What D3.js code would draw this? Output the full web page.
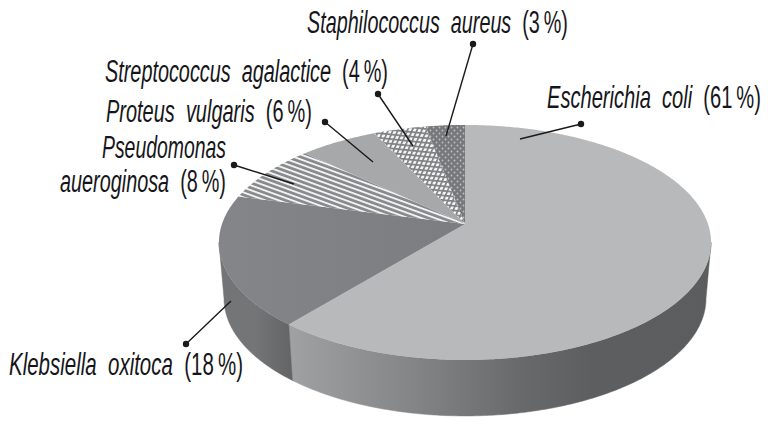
<!DOCTYPE html>
<html><head><meta charset="utf-8">
<script src="https://cdn.jsdelivr.net/npm/d3@7"></script>
<style>html,body{margin:0;background:#fff;overflow:hidden}svg{display:block}</style>
</head><body><svg id="c" width="768" height="428"></svg>
<script>
const categories=["Escherichia coli","Klebsiella oxitoca","Pseudomonas aueroginosa","Proteus vulgaris","Streptococcus agalactice","Staphilococcus aureus"];
const values=[61,18,8,6,4,3];
const labelNames=[["Escherichia  coli"],["Klebsiella  oxitoca"],["Pseudomonas","aueroginosa"],["Proteus  vulgaris"],["Streptococcus  agalactice"],["Staphilococcus  aureus"]];
const percentLabels=["(61\u2009%)","(18\u2009%)","(8\u2009%)","(6\u2009%)","(4\u2009%)","(3\u2009%)"];
const fills=["#b8b9bb","url(#klebTop)","url(#stripes)","#a7a8aa","url(#cross)","url(#dots)"];

// layout of labels: [x, baseline, width] per text line
const labelBoxes=[[[547,108,214]],[[9,375,234]],[[102,158,124],[60,192,166]],[[106,122,206]],[[105,82,283]],[[307,33,261]]];
// leader lines: dot x,y, end x,y
const leaders=[[581,124,520,139],[186,344,231,301],[234,165,294,184],[325,122,373,162],[378,94,413,146],[473,44,446,136]];

// pie geometry: projective view of a disc
const apex={x:465,y:224},R=243,K=114.6,P=0.157,depth=56,Rb=238;
const proj=(a,r=1,dy=0,rx=R)=>{const w=1+P*Math.cos(a)*r;return [apex.x+rx*Math.sin(a)*r/w,apex.y+dy-K*Math.cos(a)*r/w];};
const arcPts=(a0,a1,fn)=>{const n=Math.max(2,Math.ceil(Math.abs(a1-a0)/0.01));return d3.range(n+1).map(i=>fn(a0+(a1-a0)*i/n));};
const line=d3.line();

const svg=d3.select("#c");
const defs=svg.append("defs");
const grad=(id,x1,x2,stops)=>{const g=defs.append("linearGradient").attr("id",id).attr("gradientUnits","userSpaceOnUse").attr("x1",x1).attr("x2",x2).attr("y1",0).attr("y2",0);
  stops.forEach(s=>g.append("stop").attr("offset",s[0]).attr("stop-color",s[1]));};
grad("sideE",290,711,[[0,"#a0a1a3"],[.3,"#838486"],[.55,"#68696b"],[.72,"#5d5e60"],[1,"#5c5d5f"]]);
grad("sideK",218,292,[[0,"#737476"],[.5,"#747577"],[1,"#636466"]]);
grad("klebTop",218,465,[[0,"#848588"],[1,"#7c7d80"]]);

const stripes=defs.append("pattern").attr("id","stripes").attr("patternUnits","userSpaceOnUse").attr("width",20).attr("height",4.6).attr("patternTransform","rotate(20)");
stripes.append("rect").attr("width",20).attr("height",4.6).attr("fill","#88898c");
stripes.append("rect").attr("y",0).attr("width",20).attr("height",1.9).attr("fill","#f2f2f2");

const cross=defs.append("pattern").attr("id","cross").attr("patternUnits","userSpaceOnUse").attr("width",4.6).attr("height",4.6).attr("patternTransform","rotate(6) skewX(-18)");
cross.append("rect").attr("width",4.6).attr("height",4.6).attr("fill","#f6f6f6");
cross.append("rect").attr("width",4.6).attr("height",1.7).attr("fill","#7e7f82");
cross.append("rect").attr("width",1.7).attr("height",4.6).attr("fill","#7e7f82");

const dots=defs.append("pattern").attr("id","dots").attr("patternUnits","userSpaceOnUse").attr("width",6).attr("height",6);
dots.append("rect").attr("width",6).attr("height",6).attr("fill","#77787b");
[[1.5,1.5],[4.5,4.5]].forEach(d=>dots.append("circle").attr("cx",d[0]).attr("cy",d[1]).attr("r",.9).attr("fill","#bfc0c2"));

const arcs=d3.pie().sort(null)(values);

// side walls (only front-facing range of the first two slices)
const backR=Math.acos(-P),backL=2*Math.PI-Math.acos(-P);
const sideRanges=[[backR,arcs[0].endAngle,"url(#sideE)"],[arcs[1].startAngle,backL,"url(#sideK)"]];
svg.append("g").selectAll("path").data(sideRanges).join("path")
  .attr("d",d=>line(arcPts(d[0],d[1],a=>proj(a)).concat(arcPts(d[1],d[0],a=>proj(a,1,depth,Rb))))+"Z")
  .attr("fill",d=>d[2]).attr("stroke",d=>d[2]).attr("stroke-width",.5);

// top face
svg.append("g").selectAll("path").data(arcs).join("path")
  .attr("d",d=>line([[apex.x,apex.y]].concat(arcPts(d.startAngle,d.endAngle,a=>proj(a))))+"Z")
  .attr("fill",(d,i)=>fills[i]);

// leaders
const lg=svg.append("g");
lg.selectAll("line").data(leaders).join("line")
  .attr("x1",d=>d[0]).attr("y1",d=>d[1]).attr("x2",d=>d[2]).attr("y2",d=>d[3])
  .attr("stroke","#1a1a1a").attr("stroke-width",1.4);
lg.selectAll("circle").data(leaders).join("circle")
  .attr("cx",d=>d[0]).attr("cy",d=>d[1]).attr("r",3.2).attr("fill","#1a1a1a");

// labels
const font="'Liberation Sans Narrow','Liberation Sans',sans-serif";
labelBoxes.forEach((lines,i)=>lines.forEach((b,j)=>{
  const isLast=j===lines.length-1;
  const t=svg.append("text").attr("font-family",font).attr("font-size",31).attr("fill","#16161a")
    .attr("xml:space","preserve").style("white-space","pre");
  t.append("tspan").attr("font-style","italic").text(labelNames[i][j]);
  if(isLast) t.append("tspan").text("  "+percentLabels[i]);
  const len=t.node().getComputedTextLength();
  t.attr("transform",`translate(${b[0]},${b[1]}) scale(${b[2]/len},1)`);
}));
</script></body></html>
